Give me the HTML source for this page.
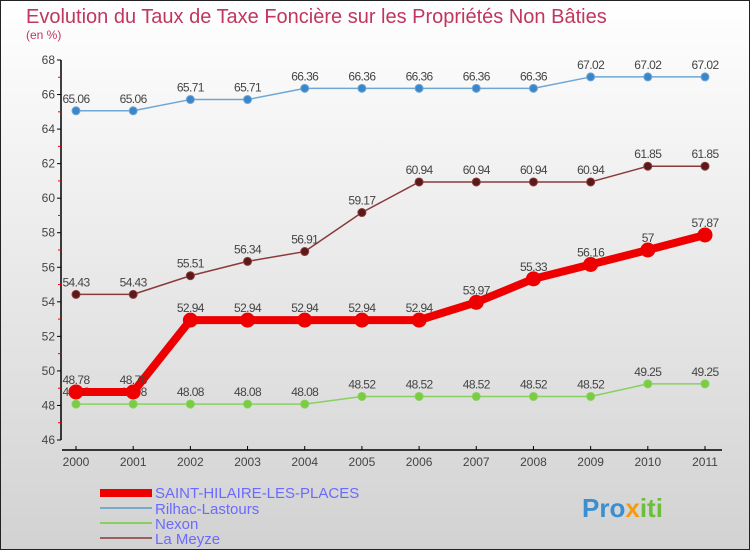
<!DOCTYPE html>
<html><head><meta charset="utf-8"><style>
html,body{margin:0;padding:0}
body{width:750px;height:550px;overflow:hidden;font-family:"Liberation Sans",sans-serif}
</style></head><body>
<svg width="750" height="550" xmlns="http://www.w3.org/2000/svg">
<defs><linearGradient id="bg" x1="0" y1="0" x2="0" y2="1"><stop offset="0" stop-color="#ffffff"/><stop offset="1" stop-color="#d2d2d2"/></linearGradient></defs>
<rect x="0.5" y="0.5" width="749" height="549" fill="url(#bg)" stroke="#222"/>
<text x="26" y="23" font-size="20" fill="#c0365f">Evolution du Taux de Taxe Foncière sur les Propriétés Non Bâties</text>
<text x="26" y="39" font-size="12" fill="#c0365f">(en %)</text>
<g id="axes"></g><g id="series"></g>
<g>
<rect x="100" y="489" width="52" height="8" fill="#e00"/>
<text x="155" y="498" font-size="15" fill="#6a6aff">SAINT-HILAIRE-LES-PLACES</text>
<line x1="100" y1="508" x2="152" y2="508" stroke="#7aaacb" stroke-width="2"/>
<text x="155" y="514" font-size="15" fill="#6a6aff">Rilhac-Lastours</text>
<line x1="100" y1="523" x2="152" y2="523" stroke="#88d060" stroke-width="2"/>
<text x="155" y="529" font-size="15" fill="#6a6aff">Nexon</text>
<line x1="100" y1="538" x2="152" y2="538" stroke="#9a6060" stroke-width="2"/>
<text x="155" y="544" font-size="15" fill="#6a6aff">La Meyze</text>
</g>
<g><text x="582" y="517" font-size="26" font-weight="bold" fill="#3a8fd0">Pro<tspan fill="#f39c12">x</tspan><tspan fill="#6cbf3a">iti</tspan></text></g>
</svg>
<script>
const years=[2000,2001,2002,2003,2004,2005,2006,2007,2008,2009,2010,2011];
const yTicks=[46,48,50,52,54,56,58,60,62,64,66,68];
const saint=[48.78,48.78,52.94,52.94,52.94,52.94,52.94,53.97,55.33,56.16,57,57.87];
const rilhac=[65.06,65.06,65.71,65.71,66.36,66.36,66.36,66.36,66.36,67.02,67.02,67.02];
const nexon=[48.08,48.08,48.08,48.08,48.08,48.52,48.52,48.52,48.52,48.52,49.25,49.25];
const meyze=[54.43,54.43,55.51,56.34,56.91,59.17,60.94,60.94,60.94,60.94,61.85,61.85];
const NS="http://www.w3.org/2000/svg";
const xs=i=>76+i*(705-76)/(years.length-1);
const ys=v=>440-(v-46)*(380/22);
function mk(t,a,p){const e=document.createElementNS(NS,t);for(const k in a)e.setAttribute(k,a[k]);p.appendChild(e);return e;}
const ax=document.getElementById('axes');
const yl=mk('line',{x1:61,y1:60,x2:61,y2:440,stroke:'#000','stroke-width':1.5},ax);


const xl=mk('line',{x1:62,y1:450,x2:722,y2:450,stroke:'#000','stroke-width':1.5},ax);


yTicks.forEach(v=>{const y=ys(v);
mk('line',{x1:57,y1:y,x2:61,y2:y,stroke:'#000'},ax);
if(v<68)mk('line',{x1:58,y1:ys(v+1),x2:61,y2:ys(v+1),stroke:'#e00'},ax);
const t=mk('text',{x:55,y:y+4,'font-size':12,fill:'#444','text-anchor':'end'},ax);t.textContent=v;

});
years.forEach((yr,i)=>{const x=xs(i);
mk('line',{x1:x,y1:446,x2:x,y2:450,stroke:'#000'},ax);
const t=mk('text',{x:x,y:466,'font-size':12,fill:'#444','text-anchor':'middle'},ax);t.textContent=yr;

});
const sg=document.getElementById('series');
function draw(data,col,w,r,fill,name){
const g=mk('g',{},sg);


mk('polyline',{points:data.map((v,i)=>xs(i)+','+ys(v)).join(' '),fill:'none',stroke:col,'stroke-width':w,'stroke-linejoin':'round'},g);
data.forEach((v,i)=>{const c=mk('circle',{cx:xs(i),cy:ys(v),r:r,fill:fill,stroke:col,'stroke-width':1},g);


const t=mk('text',{x:xs(i),y:ys(v)-8,'font-size':12,fill:'#444','text-anchor':'middle','letter-spacing':'-0.6'},g);t.textContent=v;

});}
draw(rilhac,'#6ea6d6',1.5,4,'#3a86c8','rilhac');
draw(meyze,'#8a3a3a',1.5,4,'#5a1a1a','la-meyze');
draw(nexon,'#88d060',1.5,4,'#7acc40','nexon');
draw(saint,'#e00',8,7,'#e00','saint-hilaire');
</script>
</body></html>
